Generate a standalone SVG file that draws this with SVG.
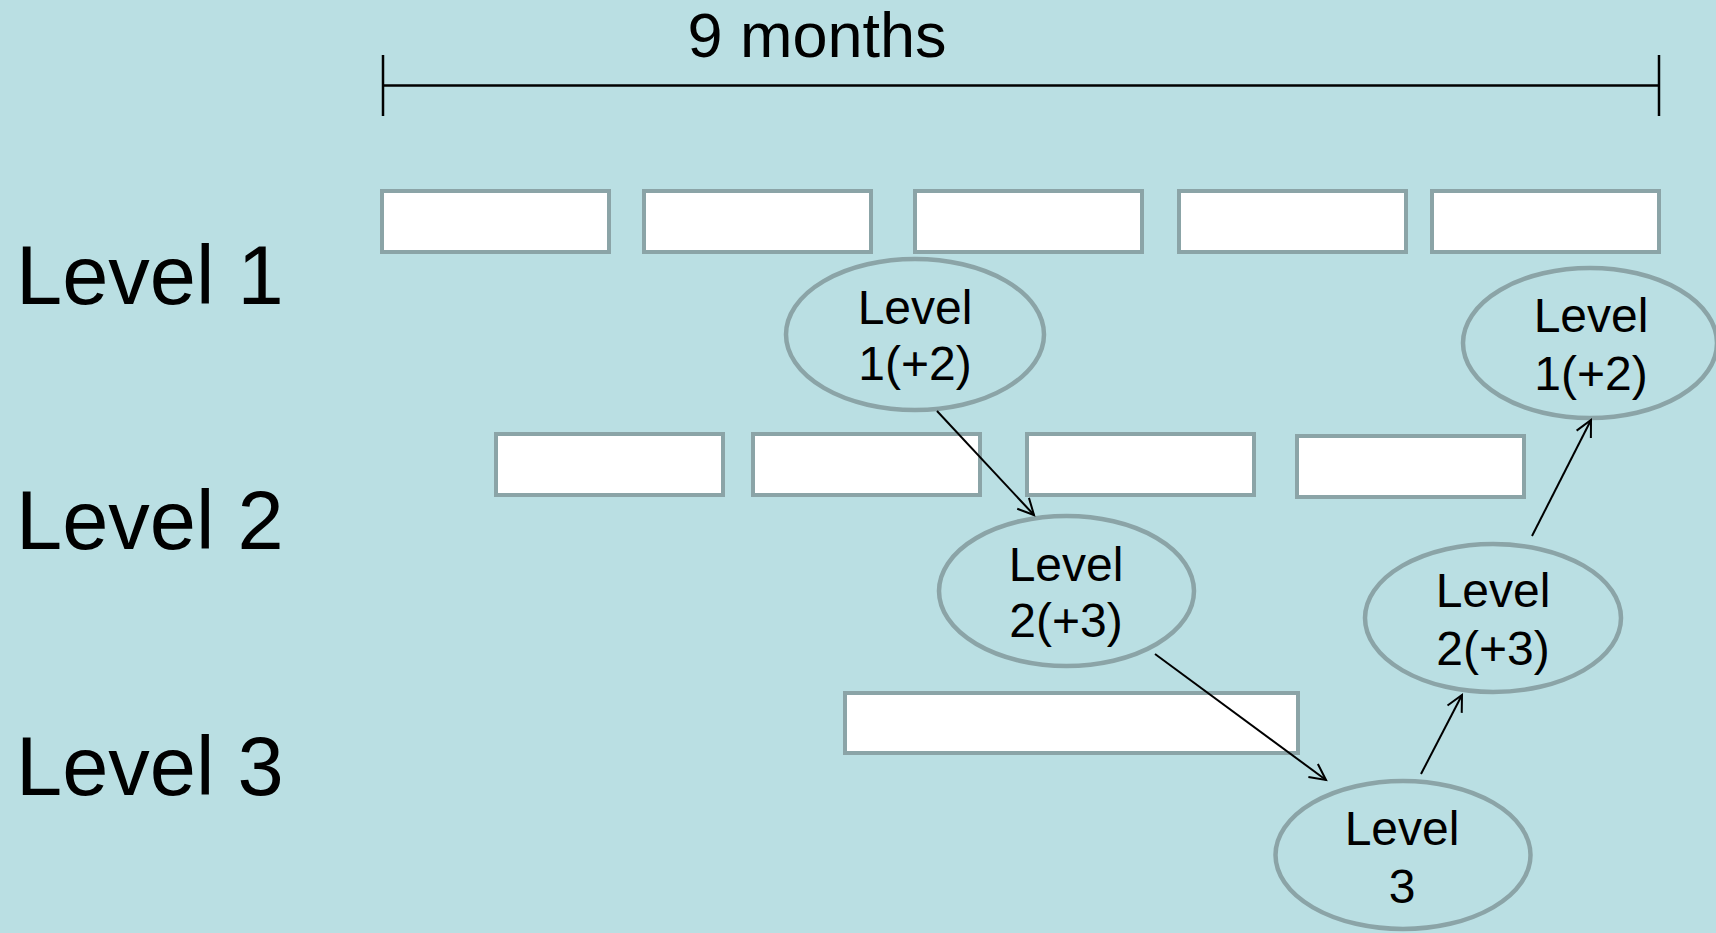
<svg xmlns="http://www.w3.org/2000/svg" width="1716" height="933" viewBox="0 0 1716 933">
<style>
.box{fill:#ffffff;stroke:#8ba4a7;stroke-width:4}
.ell{fill:#badfe3;stroke:#8ba4a7;stroke-width:4.5}
.lbl{font-family:"Liberation Sans",Arial,sans-serif;fill:#000}
.big{font-size:83px}
.node{font-size:48px;text-anchor:middle}
.conn{stroke:#000;stroke-width:2;fill:none;marker-end:url(#arr)}
</style>
<defs>
<marker id="arr" markerUnits="userSpaceOnUse" markerWidth="24" markerHeight="24" refX="18" refY="10" orient="auto" viewBox="0 0 24 20">
<path d="M2,2 L18,10 L2,18" fill="none" stroke="#000" stroke-width="2"/>
</marker>
</defs>
<rect width="1716" height="933" fill="#badfe3"/>
<g id="timeline">
<line x1="383" y1="85.5" x2="1659" y2="85.5" stroke="#000" stroke-width="2.5"/>
<line x1="383" y1="55" x2="383" y2="116" stroke="#000" stroke-width="2.5"/>
<line x1="1659" y1="55" x2="1659" y2="116" stroke="#000" stroke-width="2.5"/>
<text class="lbl" x="817" y="57" font-size="63" text-anchor="middle">9 months</text>
</g>
<g id="row-labels">
<text class="lbl big" x="16" y="304">Level 1</text>
<text class="lbl big" x="16" y="549">Level 2</text>
<text class="lbl big" x="16" y="795">Level 3</text>
</g>
<g id="level1-boxes">
<rect class="box" x="382" y="191" width="227" height="61"/>
<rect class="box" x="644" y="191" width="227" height="61"/>
<rect class="box" x="915" y="191" width="227" height="61"/>
<rect class="box" x="1179" y="191" width="227" height="61"/>
<rect class="box" x="1432" y="191" width="227" height="61"/>
</g>
<g id="level2-boxes">
<rect class="box" x="496" y="434" width="227" height="61"/>
<rect class="box" x="753" y="434" width="227" height="61"/>
<rect class="box" x="1027" y="434" width="227" height="61"/>
<rect class="box" x="1297" y="436" width="227" height="61"/>
</g>
<g id="level3-box">
<rect class="box" x="845" y="693" width="453" height="60"/>
</g>
<g id="node-l1a">
<ellipse class="ell" cx="915" cy="334.5" rx="129" ry="75.5"/>
<text class="lbl node" x="915" y="324">Level</text>
<text class="lbl node" x="915" y="380">1(+2)</text>
</g>
<g id="node-l2a">
<ellipse class="ell" cx="1066.5" cy="591" rx="127.5" ry="75"/>
<text class="lbl node" x="1066" y="581">Level</text>
<text class="lbl node" x="1066" y="637">2(+3)</text>
</g>
<g id="node-l3">
<ellipse class="ell" cx="1403" cy="855" rx="127.5" ry="74"/>
<text class="lbl node" x="1402" y="845">Level</text>
<text class="lbl node" x="1402" y="903">3</text>
</g>
<g id="node-l2b">
<ellipse class="ell" cx="1493" cy="618" rx="128" ry="74"/>
<text class="lbl node" x="1493" y="607">Level</text>
<text class="lbl node" x="1493" y="665">2(+3)</text>
</g>
<g id="node-l1b">
<ellipse class="ell" cx="1590" cy="343" rx="127" ry="75"/>
<text class="lbl node" x="1591" y="332">Level</text>
<text class="lbl node" x="1591" y="390">1(+2)</text>
</g>
<g id="connectors">
<line class="conn" x1="937" y1="411" x2="1034" y2="515"/>
<line class="conn" x1="1155" y1="654" x2="1326" y2="780"/>
<line class="conn" x1="1421" y1="774" x2="1462" y2="695"/>
<line class="conn" x1="1532" y1="536" x2="1591" y2="420"/>
</g>
</svg>
